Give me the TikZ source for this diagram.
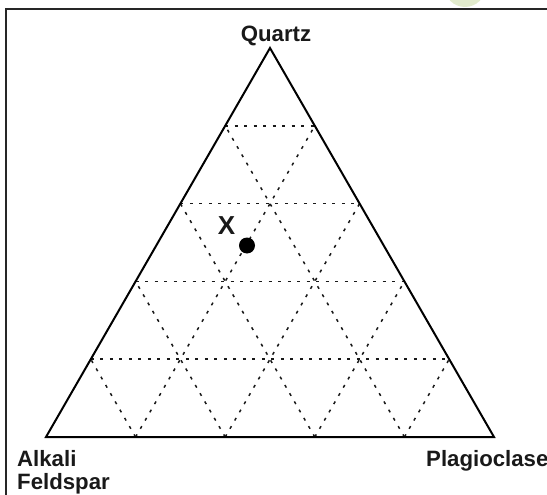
\documentclass[tikz,border=0pt]{standalone}
\usepackage{fontspec}
\setmainfont{Liberation Sans}
\usetikzlibrary{calc}
\tikzset{
  side/.style={line width=2pt, line join=miter},
  grid/.style={line width=1.5pt, dash pattern=on 3pt off 6.5pt, black!90},
  frame/.style={line width=2pt, black!85},
  lbl/.style={font=\bfseries\fontsize{22.2}{26}\selectfont, inner sep=0pt, text=black!90},
  pt/.style={circle, fill=black, minimum size=16pt, inner sep=0pt},
}
\begin{document}
\begin{tikzpicture}[x=1pt,y=-1pt]
\useasboundingbox (0,0) rectangle (547,495);
\begin{scope}
\clip (0,0) rectangle (547,495);
\fill[color={rgb,255:red,226;green,235;blue,205}] (465,-13.7) circle (20.7);
\end{scope}
\coordinate (fl1) at (5,9.5);
\coordinate (fl2) at (547,9.5);
\coordinate (fl3) at (5.5,9);
\coordinate (fl4) at (5.5,495);
\draw[frame] (fl1) -- (fl2);
\draw[frame] (fl3) -- (fl4);
\coordinate (A) at (270,48);
\coordinate (B) at (46,437);
\coordinate (C) at (494,437);
\foreach \t in {0.2,0.4,0.6,0.8}{
  \draw[grid] ($(B)!\t!(A)$) -- ($(C)!\t!(A)$);
  \draw[grid] ($(B)!\t!(C)$) -- ($(A)!\t!(C)$);
  \draw[grid] ($(B)!\t!(C)$) -- ($(B)!\t!(A)$);
}
\draw[side] (A) -- (B) -- (C) -- cycle;
\node[pt] (X) at (247,245.5) {};
\node[lbl, font=\bfseries\fontsize{26}{30}\selectfont, anchor=base] (Xl) at (226.5,234) {X};
\node[lbl, anchor=base] (Q) at (276,41.5) {Quartz};
\node[lbl, anchor=base west] (AF1) at (17,466) {Alkali};
\node[lbl, anchor=base west] (AF2) at (17,489.5) {Feldspar};
\node[lbl, anchor=base west] (P) at (426,466) {Plagioclase};
\end{tikzpicture}
\end{document}
